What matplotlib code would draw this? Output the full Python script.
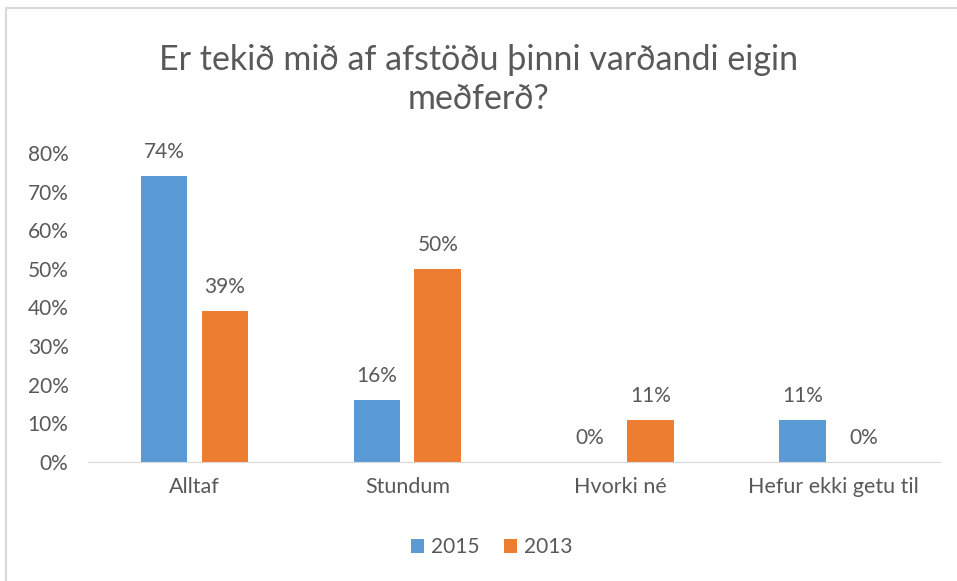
import matplotlib.pyplot as plt
import numpy as np
from matplotlib.patches import Rectangle

plt.rcParams['font.family'] = ['Lato', 'DejaVu Sans']

categories = ['Alltaf', 'Stundum', 'Hvorki né', 'Hefur ekki getu til']
v2015 = [0.74, 0.16, 0.00, 0.11]
v2013 = [0.39, 0.50, 0.11, 0.00]
series = ['2015', '2013']
colors = ['#5B9BD5', '#ED7D31']
txt = '#595959'

fig = plt.figure(figsize=(9.57, 5.81), dpi=100)
ax = fig.add_axes([0.092, 0.2048, 0.890, 0.5319])

x = np.arange(len(categories))
w = 0.22
off = 0.143
b1 = ax.bar(x - off, v2015, w, color=colors[0], label=series[0])
b2 = ax.bar(x + off, v2013, w, color=colors[1], label=series[1])

for bars, vals in [(b1, v2015), (b2, v2013)]:
    for r, v in zip(bars, vals):
        ax.text(r.get_x() + r.get_width() / 2, v + 0.062, '%d%%' % round(v * 100),
                ha='center', va='center', fontsize=15, color=txt)

ax.set_xlim(-0.5, 3.5)
ax.set_ylim(0, 0.8)
ax.set_yticks(np.arange(0, 0.81, 0.1))
ax.set_yticklabels(['%d%%' % (t * 100) for t in np.arange(0, 81, 10) / 100])
ax.set_xticks(x)
ax.set_xticklabels(categories)
ax.tick_params(axis='both', length=0, labelsize=15, colors=txt)
ax.tick_params(axis='x', labelsize=15.5)
ax.tick_params(axis='y', pad=14)
ax.tick_params(axis='x', pad=11)
for s in ['top', 'right', 'left']:
    ax.spines[s].set_visible(False)
ax.spines['bottom'].set_color('#D9D9D9')

fig.text(0.5, 0.863, 'Er tekið mið af afstöðu þinni varðandi eigin\nmeðferð?',
         ha='center', va='center', fontsize=24.5, color=txt, linespacing=1.3)

fig.legend(loc='center', bbox_to_anchor=(0.514, 0.058), ncol=2, frameon=False,
           fontsize=15, labelcolor=txt, handlelength=0.6, handleheight=0.6,
           handletextpad=0.35, columnspacing=1.2)

# outer chart border
fig.add_artist(Rectangle((6 / 957, -0.1), 1.2, 1.1 - 8 / 581, transform=fig.transFigure,
                         fill=False, edgecolor='#D9D9D9', lw=1.5))

plt.savefig('out.png')
